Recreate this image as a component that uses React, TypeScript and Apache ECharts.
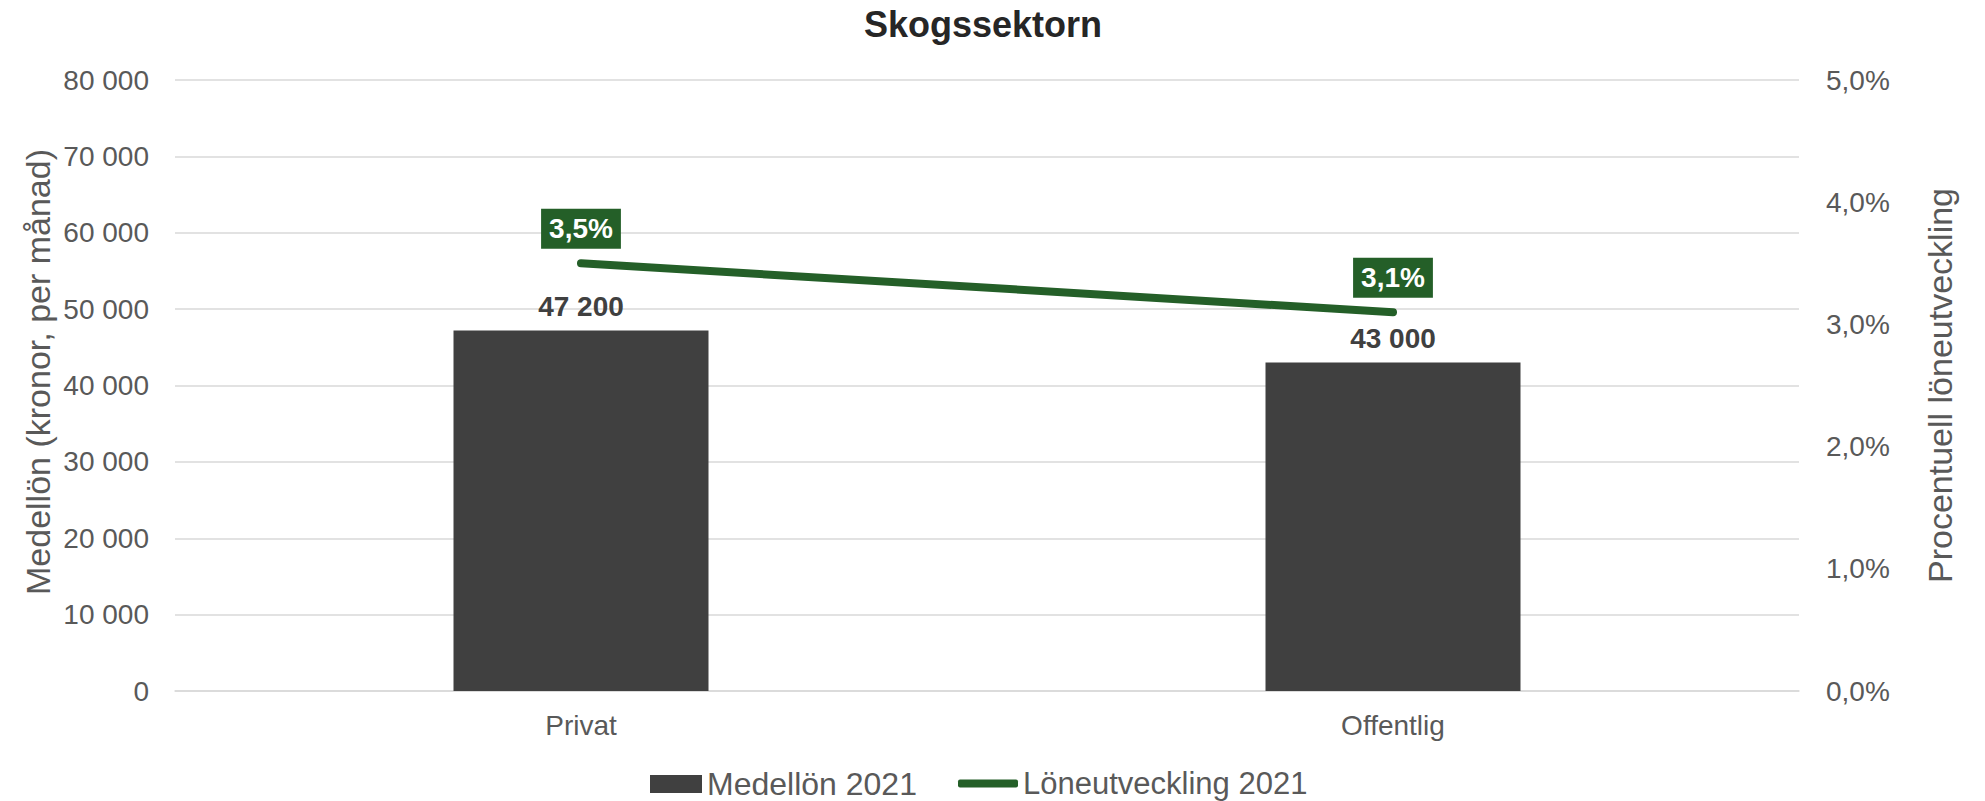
import React, { useEffect, useRef } from "react";
import * as echarts from "echarts";

const categories = ["Privat", "Offentlig"];
const medellon2021 = [47200, 43000];
const loneutveckling2021 = [3.5, 3.1];
const seriesNames = ["Medellön 2021", "Löneutveckling 2021"];
const chartTitle = "Skogssektorn";
const leftAxisTitle = "Medellön (kronor, per månad)";
const rightAxisTitle = "Procentuell löneutveckling";

const FONT = '"Liberation Sans", Arial, Helvetica, sans-serif';
const GREEN = "#245f28";
const BAR = "#404040";
const LABEL = "#595959";
const GRID = "#d9d9d9";

const fmtThousands = (v: number) =>
  String(Math.round(v)).replace(/\B(?=(\d{3})+(?!\d))/g, " ");
const fmtPct = (v: number) => v.toFixed(1).replace(".", ",") + "%";

export default function App() {
  const ref = useRef<HTMLDivElement>(null);
  useEffect(() => {
    if (!ref.current) return;
    const chart = echarts.init(ref.current, undefined, { renderer: "svg" });
    chart.setOption({
      animation: false,
      textStyle: { fontFamily: FONT },
      title: {
        text: chartTitle,
        left: 859,
        top: 1,
        textStyle: { fontFamily: FONT, fontSize: 36, fontWeight: "bold", color: "#262626" },
      },
      grid: { left: 175, right: 186, top: 80, bottom: 110, containLabel: false },
      graphic: [
        {
          type: "text",
          x: 38,
          y: 372,
          rotation: Math.PI / 2,
          style: {
            text: leftAxisTitle,
            fontFamily: FONT,
            fontSize: 34,
            fill: LABEL,
            align: "center",
            verticalAlign: "middle",
          },
        },
      ],
      legend: [
        {
          left: 645,
          top: 763,
          itemWidth: 52,
          itemHeight: 18,
          textStyle: { fontFamily: FONT, fontSize: 32, color: LABEL },
          data: [{ name: seriesNames[0], icon: "rect" }],
        },
        {
          left: 953,
          top: 763,
          itemWidth: 60,
          itemHeight: 8,
          textStyle: { fontFamily: FONT, fontSize: 31, color: LABEL },
          data: [{ name: seriesNames[1], icon: "roundRect" }],
        },
      ],
      xAxis: {
        type: "category",
        data: categories,
        axisTick: { show: false },
        axisLine: { lineStyle: { color: GRID, width: 1.5 } },
        axisLabel: { fontFamily: FONT, fontSize: 28, color: LABEL, margin: 20 },
      },
      yAxis: [
        {
          type: "value",
          min: 0,
          max: 80000,
          interval: 10000,
          axisLine: { show: false },
          axisTick: { show: false },
          splitLine: { lineStyle: { color: GRID, width: 1.5 } },
          axisLabel: { fontFamily: FONT, fontSize: 28, color: LABEL, margin: 26, formatter: fmtThousands },
        },
        {
          type: "value",
          min: 0,
          max: 5,
          interval: 1,
          name: rightAxisTitle,
          nameLocation: "middle",
          nameGap: 124,
          nameTextStyle: { fontFamily: FONT, fontSize: 34, color: LABEL },
          axisLine: { show: false },
          axisTick: { show: false },
          splitLine: { show: false },
          axisLabel: { fontFamily: FONT, fontSize: 28, color: LABEL, margin: 27, formatter: fmtPct },
        },
      ],
      series: [
        {
          name: seriesNames[0],
          type: "bar",
          yAxisIndex: 0,
          data: medellon2021,
          barWidth: 255,
          itemStyle: { color: BAR },
          label: {
            show: true,
            position: "top",
            distance: 10,
            fontFamily: FONT,
            fontSize: 28,
            fontWeight: "bold",
            color: BAR,
            formatter: (p: any) => fmtThousands(p.value),
          },
        },
        {
          name: seriesNames[1],
          type: "line",
          yAxisIndex: 1,
          data: loneutveckling2021,
          symbol: "circle",
          symbolSize: 1,
          showSymbol: true,
          lineStyle: { color: GREEN, width: 8, cap: "round" },
          itemStyle: { color: GREEN },
          label: {
            show: true,
            position: "top",
            distance: 14,
            fontFamily: FONT,
            fontSize: 28,
            fontWeight: "bold",
            color: "#ffffff",
            backgroundColor: GREEN,
            padding: [6, 8],
            formatter: (p: any) => fmtPct(p.value),
          },
        },
      ],
    });
    return () => chart.dispose();
  }, []);
  return (
    <div
      ref={ref}
      style={{ position: "fixed", left: 0, top: 0, width: 1985, height: 801, background: "#ffffff" }}
    />
  );
}
